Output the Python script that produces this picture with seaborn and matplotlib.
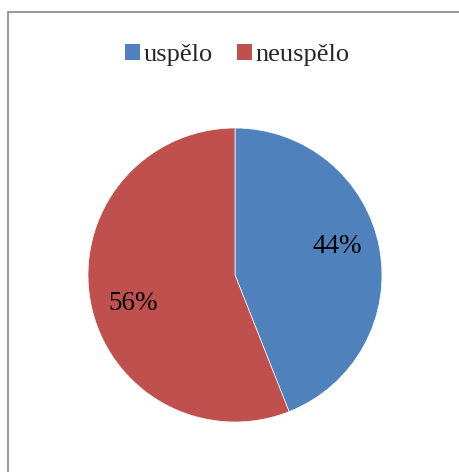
import matplotlib
matplotlib.use("Agg")
import matplotlib.pyplot as plt
import seaborn as sns
import numpy as np
from matplotlib.patches import Rectangle, Patch

sns.set_theme(style="white")
plt.rcParams['font.family'] = ['Liberation Serif', 'DejaVu Serif']

# data
labels = ['uspělo', 'neuspělo']
values = [44, 56]
colors = ['#4F81BD', '#C0504D']

fig = plt.figure(figsize=(4.59, 4.72), dpi=100)
fig.patch.set_facecolor('white')

# outer chart frame (only left and top edges visible)
top = 1 - 12 / 472
fig.add_artist(Rectangle((8 / 459, -0.1), 1.2, top + 0.1,
                         transform=fig.transFigure, fill=False,
                         edgecolor='#898989', linewidth=1.2))

ax = fig.add_axes([88 / 459, (472 - 422) / 472, 294 / 459, 294 / 472])
wedges, texts, autotexts = ax.pie(values, colors=colors, startangle=90,
                                  counterclock=False, autopct='%d%%',
                                  wedgeprops=dict(edgecolor='white', linewidth=0.5),
                                  textprops=dict(fontsize=19.5, color='black'))
# labels sit a bit counter-clockwise of the wedge middle, like the original
for w, t in zip(wedges, autotexts):
    ang = np.deg2rad((w.theta1 + w.theta2) / 2 + 5)
    t.set_position((0.72 * np.cos(ang), 0.72 * np.sin(ang)))
ax.set_xlim(-1, 1)
ax.set_ylim(-1, 1)
ax.set_aspect('equal')
ax.axis('off')

handles = [Patch(facecolor=c, edgecolor='none') for c in colors]
fig.legend(handles, labels, loc='center', bbox_to_anchor=(0.517, 1 - 55 / 472),
           ncol=2, frameon=False, fontsize=19, handlelength=0.56,
           handleheight=0.56, handletextpad=0.16, columnspacing=0.9)

fig.savefig('out.png', dpi=100, facecolor='white')
